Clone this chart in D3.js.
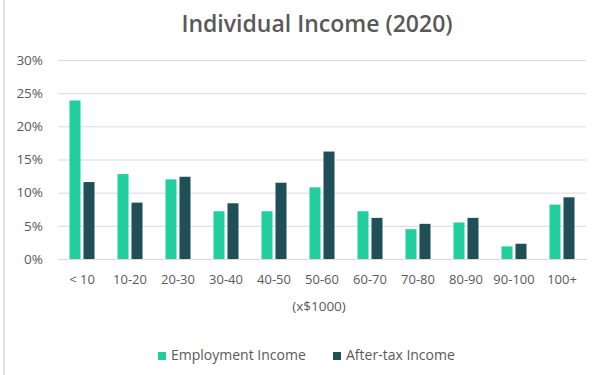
<!DOCTYPE html>
<html>
<head>
<meta charset="utf-8">
<script src="https://cdn.jsdelivr.net/npm/d3@7"></script>
<style>
  body { margin: 0; background: #fff; }
  text { font-family: "Open Sans", "Noto Sans", sans-serif; fill: #595959; }
</style>
</head>
<body>
<div id="chart"></div>
<script>
var categories = ["< 10", "10-20", "20-30", "30-40", "40-50", "50-60", "60-70", "70-80", "80-90", "90-100", "100+"];
var employment = [23.9, 12.8, 12.0, 7.2, 7.2, 10.8, 7.2, 4.5, 5.5, 1.9, 8.2];
var afterTax = [11.6, 8.5, 12.4, 8.4, 11.5, 16.2, 6.2, 5.3, 6.2, 2.3, 9.3];
var yTicks = [0, 5, 10, 15, 20, 25, 30];
var seriesNames = ["Employment Income", "After-tax Income"];
var colors = ["#20cf9b", "#1f4f57"];

var w = 605, h = 375;
var plotLeft = 58, plotRight = 586, plotTop = 60, plotBottom = 259;

var svg = d3.select("#chart").append("svg")
    .attr("width", w)
    .attr("height", h);

// chart border on the left
svg.append("rect")
    .attr("x", 3).attr("y", 0)
    .attr("width", 2).attr("height", h)
    .attr("fill", "#e2e2e2");

var x = d3.scaleBand().domain(categories).range([plotLeft, plotRight]);
var y = d3.scaleLinear().domain([0, 30]).range([plotBottom, plotTop]);

// gridlines + y labels
var yAxis = d3.axisLeft(y)
    .tickValues(yTicks)
    .tickSize(-(plotRight - plotLeft))
    .tickPadding(15)
    .tickFormat(function(d) { return d + "%"; });

var gy = svg.append("g")
    .attr("transform", "translate(" + plotLeft + ",0)")
    .call(yAxis);
gy.select(".domain").remove();
gy.selectAll(".tick line").attr("stroke", "#d9d9d9");
gy.selectAll(".tick text")
    .attr("font-size", "13.5px")
    .attr("fill", "#595959");

// bars
var barW = 11, gap = 3;
var series = [employment, afterTax];
series.forEach(function(vals, s) {
    svg.append("g").selectAll("rect")
        .data(vals)
        .enter()
        .append("rect")
        .attr("x", function(d, i) {
            var c = x(categories[i]) + x.bandwidth() / 2;
            return s === 0 ? c - gap / 2 - barW : c + gap / 2;
        })
        .attr("y", function(d) { return y(d); })
        .attr("width", barW)
        .attr("height", function(d) { return plotBottom - y(d); })
        .attr("fill", colors[s]);
});

// x labels
var xAxis = d3.axisBottom(x).tickSize(0).tickPadding(16);
var gx = svg.append("g")
    .attr("transform", "translate(0," + plotBottom + ")")
    .call(xAxis);
gx.select(".domain").attr("stroke", "#d9d9d9");
gx.selectAll(".tick text")
    .attr("font-size", "13px")
    .attr("fill", "#595959");

// axis title
svg.append("text")
    .attr("x", 319).attr("y", 311)
    .attr("text-anchor", "middle")
    .attr("font-size", "13.5px")
    .text("(x$1000)");

// title
svg.append("text")
    .attr("x", 317).attr("y", 32)
    .attr("text-anchor", "middle")
    .attr("font-size", "23px")
    .attr("font-weight", 600)
    .text("Individual Income (2020)");

// legend
var legendX = [158, 333];
var lg = svg.append("g").selectAll("g")
    .data(seriesNames)
    .enter()
    .append("g")
    .attr("transform", function(d, i) { return "translate(" + legendX[i] + ",360)"; });
lg.append("rect")
    .attr("x", 0).attr("y", -8)
    .attr("width", 8).attr("height", 8)
    .attr("fill", function(d, i) { return colors[i]; });
lg.append("text")
    .attr("x", 13).attr("y", 0)
    .attr("font-size", "14px")
    .text(function(d) { return d; });
</script>
</body>
</html>
